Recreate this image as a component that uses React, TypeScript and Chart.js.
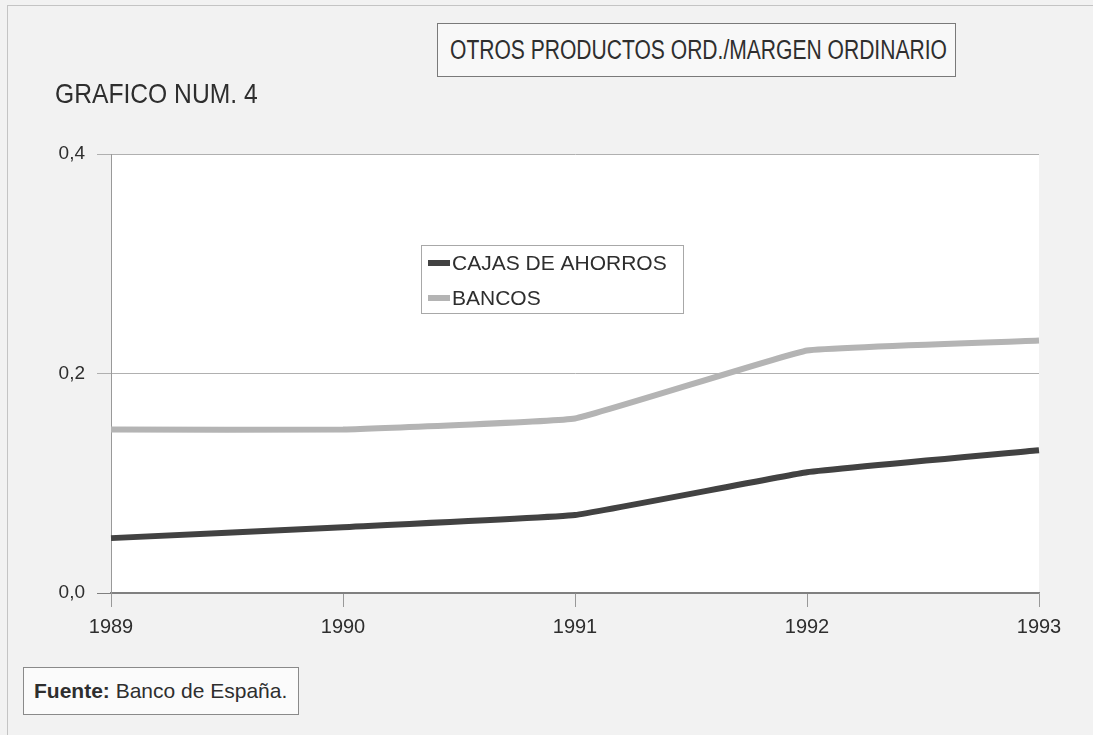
import React, { useEffect, useRef } from "react";
import { Chart, registerables } from "chart.js";

Chart.register(...registerables);

const years = ["1989", "1990", "1991", "1992", "1993"];
const cajasDeAhorros = [0.05, 0.06, 0.071, 0.11, 0.13];
const bancos = [0.149, 0.149, 0.159, 0.221, 0.23];
const seriesLabels = ["CAJAS DE AHORROS", "BANCOS"];
const seriesColors = ["#424242", "#b4b4b4"];
const yMin = 0;
const yMax = 0.4;
const yStep = 0.2;

const chartTitle = "OTROS PRODUCTOS ORD./MARGEN ORDINARIO";
const chartNumber = "GRAFICO NUM. 4";
const sourceLabel = "Fuente:";
const sourceText = " Banco de España.";

const FONT = "'Liberation Sans', Arial, Helvetica, sans-serif";

const plotBg = {
  id: "plotBg",
  beforeDraw(chart: any) {
    const { ctx, chartArea } = chart;
    ctx.save();
    ctx.fillStyle = "#ffffff";
    ctx.fillRect(chartArea.left, chartArea.top, chartArea.right - chartArea.left, chartArea.bottom - chartArea.top);
    ctx.restore();
  },
};

const boxLegend = {
  id: "boxLegend",
  afterDraw(chart: any) {
    const { ctx } = chart;
    ctx.save();
    const x = 421, y = 245, w = 262, h = 68;
    ctx.fillStyle = "#ffffff";
    ctx.fillRect(x, y, w, h);
    ctx.strokeStyle = "#a8a8a8";
    ctx.lineWidth = 1;
    ctx.strokeRect(x + 0.5, y + 0.5, w, h);
    ctx.font = `21px ${FONT}`;
    ctx.textBaseline = "middle";
    chart.data.datasets.forEach((ds: any, i: number) => {
      const cy = 263 + i * 35;
      ctx.fillStyle = ds.borderColor;
      ctx.fillRect(428, cy - 3, 22, 6);
      ctx.fillStyle = "#2e2e2e";
      ctx.fillText(ds.label, 452, cy + 1);
    });
    ctx.restore();
  },
};

export default function App() {
  const ref = useRef<HTMLCanvasElement | null>(null);

  useEffect(() => {
    if (!ref.current) return;
    const chart = new Chart(ref.current, {
      type: "line",
      data: {
        labels: years,
        datasets: [
          {
            label: seriesLabels[0],
            data: cajasDeAhorros,
            borderColor: seriesColors[0],
            backgroundColor: seriesColors[0],
            borderWidth: 6,
            pointRadius: 0,
            tension: 0.08,
            borderJoinStyle: "round",
          },
          {
            label: seriesLabels[1],
            data: bancos,
            borderColor: seriesColors[1],
            backgroundColor: seriesColors[1],
            borderWidth: 6,
            pointRadius: 0,
            tension: 0.08,
            borderJoinStyle: "round",
          },
        ],
      },
      options: {
        animation: false,
        responsive: false,
        maintainAspectRatio: false,
        layout: { padding: { left: 0, right: 54, top: 154, bottom: 0 } },
        plugins: {
          legend: { display: false },
          title: { display: false },
          tooltip: { enabled: false },
        },
        scales: {
          x: {
            type: "category",
            offset: false,
            grid: {
              drawOnChartArea: false,
              drawTicks: true,
              tickLength: 14,
              color: "#999999",
            },
            border: { display: true, color: "#808080", width: 1.5 },
            ticks: {
              color: "#2e2e2e",
              font: { family: FONT, size: 20 },
              padding: 8,
              maxRotation: 0,
            },
            afterFit(scale: any) {
              scale.height = 142;
            },
          },
          y: {
            min: yMin,
            max: yMax,
            grid: {
              color: (c: any) => (c.tick && c.tick.value === 0 ? "#808080" : "#b0b0b0"),
              tickLength: 14,
              drawTicks: true,
            },
            border: { display: true, color: "#999999", width: 1 },
            ticks: {
              stepSize: yStep,
              color: "#2e2e2e",
              font: { family: FONT, size: 19 },
              padding: 12,
              callback: (v: any) => Number(v).toFixed(1).replace(".", ","),
            },
            afterFit(scale: any) {
              scale.width = 111;
            },
          },
        },
      },
      plugins: [plotBg, boxLegend],
    });
    return () => chart.destroy();
  }, []);

  return (
    <div
      style={{
        position: "absolute",
        left: 0,
        top: 0,
        width: 1093,
        height: 735,
        background: "#f2f2f2",
        overflow: "hidden",
        fontFamily: FONT,
        color: "#2e2e2e",
      }}
    >
      <div style={{ position: "absolute", left: 7, top: 5, right: 0, height: 1, background: "#c4c4c4" }} />
      <div style={{ position: "absolute", left: 7, top: 5, width: 1, bottom: 0, background: "#c4c4c4" }} />
      <canvas ref={ref} width={1093} height={735} style={{ position: "absolute", left: 0, top: 0 }} />
      <div
        style={{
          position: "absolute",
          left: 437,
          top: 23,
          width: 519,
          height: 54,
          border: "1.5px solid #7a7a7a",
          background: "#f8f8f8",
          boxSizing: "border-box",
        }}
      >
        <div
          style={{
            position: "absolute",
            left: 12,
            top: 11,
            fontSize: 27,
            lineHeight: "30px",
            whiteSpace: "nowrap",
            transform: "scaleX(0.78)",
            transformOrigin: "left top",
          }}
        >
          {chartTitle}
        </div>
      </div>
      <div
        style={{
          position: "absolute",
          left: 55,
          top: 78,
          fontSize: 28,
          lineHeight: "32px",
          whiteSpace: "nowrap",
          transform: "scaleX(0.88)",
          transformOrigin: "left top",
        }}
      >
        {chartNumber}
      </div>
      <div
        style={{
          position: "absolute",
          left: 23,
          top: 667,
          width: 276,
          height: 48,
          border: "1px solid #8a8a8a",
          background: "#fbfbfb",
          boxSizing: "border-box",
          fontSize: 21,
          lineHeight: "24px",
          paddingLeft: 10,
          paddingTop: 11,
          whiteSpace: "nowrap",
        }}
      >
        <b>{sourceLabel}</b>
        {sourceText}
      </div>
    </div>
  );
}
